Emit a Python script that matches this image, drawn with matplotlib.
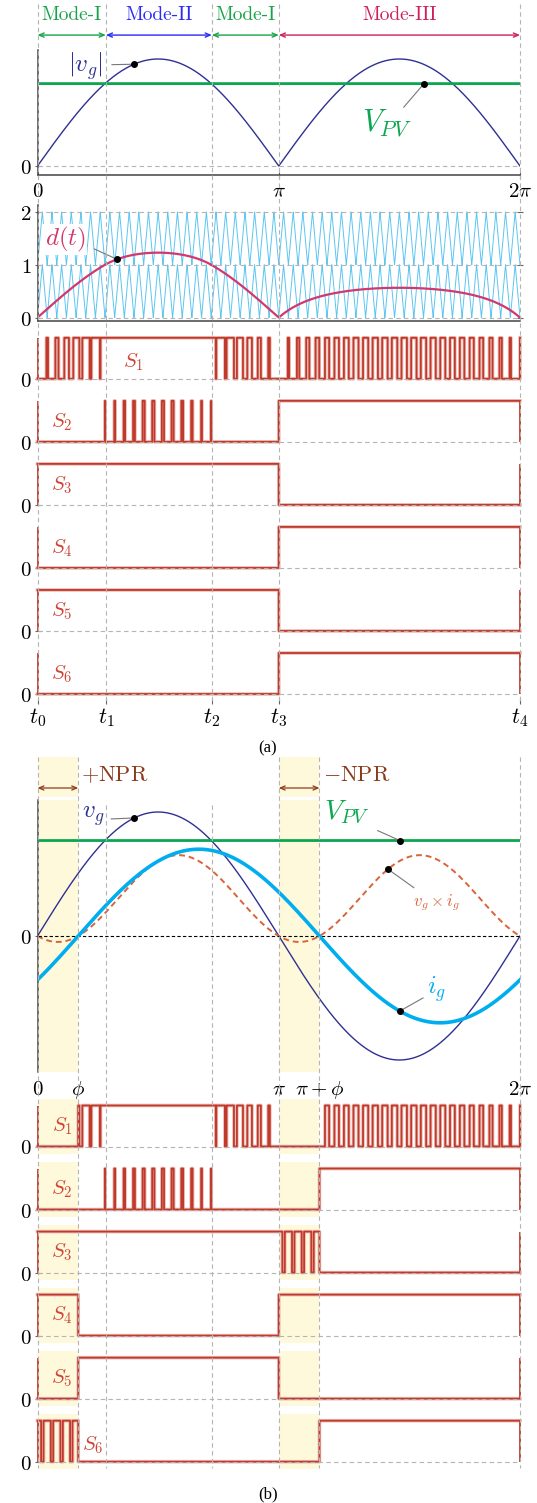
import numpy as np
import matplotlib.pyplot as plt

plt.rcParams['mathtext.fontset'] = 'cm'
plt.rcParams['axes.unicode_minus'] = False

# values (angles in rad, levels relative to the peak of v_g)
t_marks = [0.0, 0.89, 2.27, np.pi, 2 * np.pi]          # t0 .. t4
t_names = ['$t_0$', '$t_1$', '$t_2$', '$t_3$', '$t_4$']
mode_names = ['Mode-I', 'Mode-II', 'Mode-I', 'Mode-III']
mode_from = [0.0, 0.89, 2.27, np.pi]
mode_to = [0.89, 2.27, np.pi, 2 * np.pi]
mode_cols = ['#19a24a', '#2b2bf5', '#19a24a', '#d0205c']
v_pv = 0.77        # PV voltage level
i_peak = 0.70      # grid current amplitude
phi = 0.53         # current phase lag
n_carr = 50        # carrier periods in 2*pi
npr_duty = 0.75    # on-fraction of the pulsed switch inside the NPR zones
b_ticks = [0.0, phi, np.pi, np.pi + phi, 2 * np.pi]
b_names = ['$0$', r'$\phi$', r'$\pi$', r'$\pi+\phi$', r'$2\pi$']

# colours
NAVY = '#2e3192'
GREEN = '#0aa650'
DCOL = '#d2386c'
CARR = '#5cc6f0'
ICOL = '#00aeef'
PCOL = '#d9643a'
RED = '#c0392b'
SLAB = '#cf4436'
GRID = '#b4b4b4'
BAND = '#fff9dc'
NPRC = '#8b3b1c'

# waveforms
t = np.linspace(0, 2 * np.pi, 24001)
vg = np.sin(t)
va = np.abs(vg)
ig = i_peak * np.sin(t - phi)
half1 = t < np.pi
m2 = half1 & (va >= v_pv)
d = np.where(half1,
             np.where(m2, 2 - v_pv / np.maximum(va, 1e-9), va / v_pv),
             va / (va + v_pv))
ph = (t * n_carr / (2 * np.pi)) % 1
tri = 1 - np.abs(2 * ph - 1)

S1a = np.where(m2, 1, d > tri)
S2a = np.where(half1, m2 & (d - 1 > tri), 1)
sig_a = [S1a, S2a, half1, ~half1, half1, ~half1]

pnpr = t < phi
nnpr = (~half1) & (t < np.pi + phi)
S1b = np.where(pnpr | nnpr, 0, S1a)
S2b = np.where(half1, S2a, ~nnpr)
S3b = np.where(half1, 1, nnpr & (tri < npr_duty))
S4b = pnpr | ~half1
S5b = half1 & ~pnpr
S6b = np.where(pnpr, tri < npr_duty, ~half1 & ~nnpr)
sig_b = [S1b, S2b, S3b, S4b, S5b, S6b]

W, H = 537, 1503
X0, X1 = 37.5, 520.0
fig = plt.figure(figsize=(W / 100, H / 100), dpi=100)


def panel(top, bottom, zero, unit):
    ax = fig.add_axes([X0 / W, 1 - bottom / H, (X1 - X0) / W, (bottom - top) / H])
    ax.set_xlim(0, 2 * np.pi)
    ax.set_ylim((zero - bottom) / unit, (zero - top) / unit)
    ax.patch.set_alpha(0)
    for s in ax.spines.values():
        s.set_visible(False)
        s.set_color('#444444')
        s.set_linewidth(1.1)
    ax.tick_params(direction='inout', length=5, width=0.8, color='#666666',
                   labelsize=15, pad=2)
    ax.set_xticks([])
    ax.set_yticks([])
    return ax


def hline(ax, y, col=GRID):
    ax.plot([0, 2 * np.pi], [y, y], color=col, lw=0.8, ls=(0, (4, 3)), zorder=5,
            clip_on=False)


def bands(ax):
    ax.axvspan(0, phi, color=BAND, lw=0, zorder=0)
    ax.axvspan(np.pi, np.pi + phi, color=BAND, lw=0, zorder=0)


def pulses(zero, sig, name, lx, ly, shade=False):
    ax = panel(zero - 48, zero + 7, zero, 41)
    if shade:
        bands(ax)
    s = sig.astype(float)
    ax.plot(t, s, drawstyle='steps-post', color='#ecbcb6', lw=2.6, zorder=2, clip_on=False)
    ax.plot(t, s, drawstyle='steps-post', color=RED, lw=1.3, zorder=3, clip_on=False)
    ax.vlines([0, 2 * np.pi], 0, 1, color=RED, lw=1.3, zorder=3, clip_on=False)
    hline(ax, 0)
    ax.set_yticks([0])
    ax.set_yticklabels(['$0$'])
    ax.text(lx, ly, name, color=SLAB, fontsize=15, ha='center', va='center', zorder=6)
    return ax


def note(ax, txt, col, size, tx, ty, lx, ly, dx, dy, bg=False):
    ax.plot([lx, dx], [ly, dy], color='#777777', lw=0.8, zorder=7)
    ax.plot(dx, dy, 'o', color='k', ms=4, zorder=8)
    kw = dict(boxstyle='square,pad=0.05', fc='white', ec='none') if bg else None
    ax.text(tx, ty, txt, color=col, fontsize=size, ha='center', va='center',
            bbox=kw, zorder=9)


# ---------------- (a) ----------------
ax = panel(4, 46, 46, 42)
for name, a, b, c in zip(mode_names, mode_from, mode_to, mode_cols):
    ax.annotate('', xy=(b, 0.26), xytext=(a, 0.26),
                arrowprops=dict(arrowstyle='<->,head_length=0.35,head_width=0.15',
                                color=c, lw=1.0, shrinkA=0, shrinkB=0))
    ax.text((a + b) / 2, 0.74, name, color=c, fontsize=14, family='cmr10',
            ha='center', va='center')

ax = panel(50, 175, 166, 107)
ax.spines['left'].set_visible(True)
ax.spines['bottom'].set_visible(True)
hline(ax, 0)
ax.plot(t, va, color=NAVY, lw=1.0, zorder=3)
ax.plot(t, np.full_like(t, v_pv), color=GREEN, lw=2.0, zorder=3)
ax.set_yticks([0])
ax.set_yticklabels(['$0$'])
ax.set_xticks([0, np.pi, 2 * np.pi])
ax.set_xticklabels(['$0$', r'$\pi$', r'$2\pi$'])
note(ax, '$|v_g|$', NAVY, 18, 0.62, 0.93, 0.97, 0.947, 1.257, np.sin(1.257))
note(ax, '$V_{PV}$', GREEN, 22, 4.55, 0.40, 4.77, 0.55, 5.033, v_pv)

ax = panel(205, 321, 317.6, 52.8)
ax.spines['left'].set_visible(True)
ax.spines['bottom'].set_visible(True)
ax.plot(t, tri, color=CARR, lw=0.7, zorder=2)
ax.plot(t, tri + 1, color=CARR, lw=0.7, zorder=2)
for y in [0, 1, 2]:
    hline(ax, y)
ax.plot(t, d, color=DCOL, lw=1.6, zorder=6)
ax.set_yticks([0, 1, 2])
ax.set_yticklabels(['$0$', '$1$', '$2$'])
ax.tick_params(right=True)
note(ax, '$d(t)$', DCOL, 18, 0.36, 1.48, 0.74, 1.30, 1.035, float(np.interp(1.035, t, d)), bg=True)

zeros_a = [378.8 + 63.04 * i for i in range(6)]
for i, (z, s) in enumerate(zip(zeros_a, sig_a)):
    if i == 0:
        lx, ly = 1.244, 0.40
    else:
        lx, ly = 0.32, 0.49
    ax = pulses(z, s, '$S_%d$' % (i + 1), lx, ly)
ax.set_xticks(t_marks)
ax.set_xticklabels(t_names)
ax.tick_params(axis='x', length=5, labelsize=16, pad=1)
fig.text(268 / W, 1 - 748 / H, '(a)', ha='center', va='center', fontsize=12,
         family='Liberation Serif')

# ---------------- (b) ----------------
ax = panel(757, 797, 797, 40)
bands(ax)
for a in [0.0, np.pi]:
    ax.annotate('', xy=(a + phi, 0.225), xytext=(a, 0.225),
                arrowprops=dict(arrowstyle='<->,head_length=0.35,head_width=0.15',
                                color=NPRC, lw=0.9, shrinkA=0, shrinkB=0))
ax.text(phi + 0.04, 0.55, r'$+\mathrm{NPR}$', color=NPRC, fontsize=16, ha='left', va='center')
ax.text(np.pi + phi + 0.04, 0.55, r'$-\mathrm{NPR}$', color=NPRC, fontsize=16,
        ha='left', va='center')

ax = panel(800, 1072, 936, 124)
bands(ax)
ax.spines['left'].set_visible(True)
ax.plot([0, 2 * np.pi], [0, 0], color='k', lw=0.8, ls=(0, (3, 2)), zorder=4)
ax.plot(t, vg, color=NAVY, lw=1.0, zorder=3)
ax.plot(t, np.full_like(t, v_pv), color=GREEN, lw=2.0, zorder=3)
ax.plot(t, vg * ig, color=PCOL, lw=1.4, ls=(0, (3, 2)), zorder=3)
ax.plot(t, ig, color=ICOL, lw=2.6, zorder=4)
ax.set_yticks([0])
ax.set_yticklabels(['$0$'])
ax.set_xticks(b_ticks)
ax.set_xticklabels(b_names)
ax.tick_params(axis='x', length=0, pad=5)
note(ax, '$v_g$', NAVY, 18, 0.72, 0.97, 0.96, 0.944, 1.259, np.sin(1.259))
note(ax, '$V_{PV}$', GREEN, 20, 4.03, 1.0, 4.43, 0.85, 4.717, v_pv)
note(ax, r'$v_g\times i_g$', PCOL, 12, 5.19, 0.27, 4.90, 0.39, 4.564,
     float(np.interp(4.564, t, vg * ig)))
note(ax, '$i_g$', ICOL, 18, 5.20, -0.43, 5.02, -0.50, 4.717,
     float(np.interp(4.717, t, ig)))

zeros_b = [1146.5 + 63.04 * i for i in range(6)]
for i, (z, s) in enumerate(zip(zeros_b, sig_b)):
    if i == 5:
        lx, ly = 0.716, 0.39
    else:
        lx, ly = 0.32, 0.50
    pulses(z, s, '$S_%d$' % (i + 1), lx, ly, shade=True)
fig.text(268 / W, 1 - 1494 / H, '(b)', ha='center', va='center', fontsize=12,
         family='Liberation Serif')

# dashed guides running through the stacked panels
ov = fig.add_axes([0, 0, 1, 1])
k = 2 * np.pi / (X1 - X0)
ov.set_xlim(-X0 * k, (W - X0) * k)
ov.set_ylim(H, 0)
ov.axis('off')
ov.vlines(t_marks, 4, 702, colors=GRID, lw=0.8, linestyles=(0, (4, 3)))
ov.vlines(b_ticks, 757, 1468, colors=GRID, lw=0.8, linestyles=(0, (4, 3)))
ov.vlines(t_marks[1:3], 805, 1468, colors=GRID, lw=0.8, linestyles=(0, (4, 3)))

fig.savefig('out.png', dpi=100)
